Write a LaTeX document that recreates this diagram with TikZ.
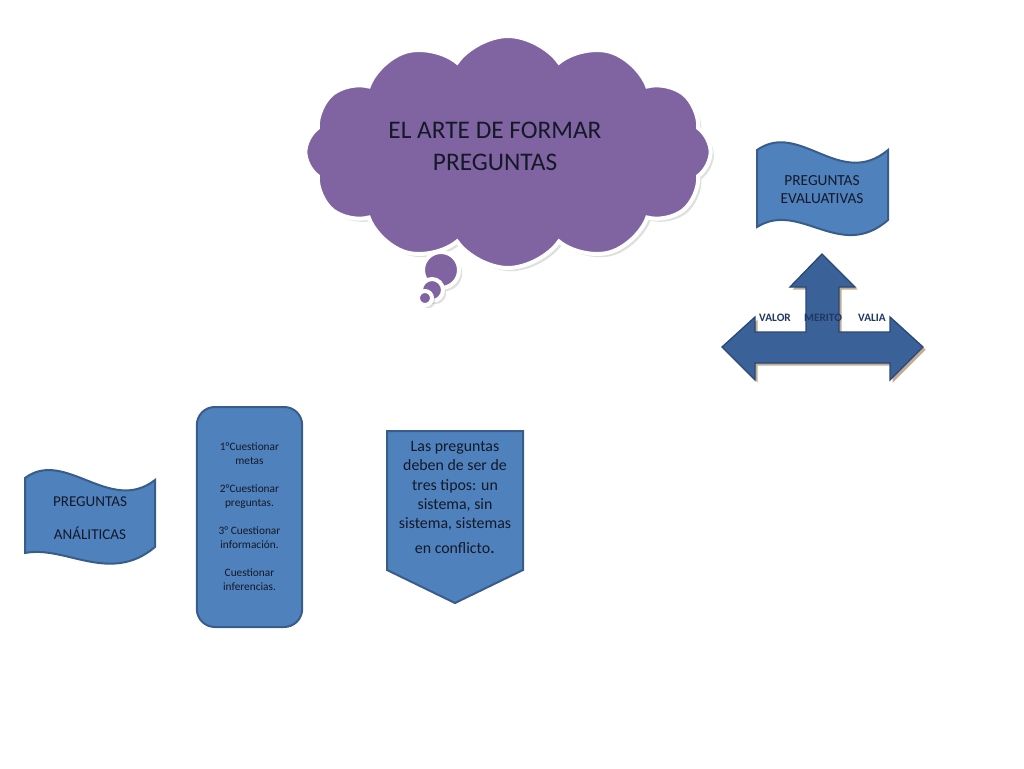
\documentclass[tikz,border=0pt]{standalone}
\usepackage{fontspec}
\setmainfont{Carlito}
\usetikzlibrary{shapes.symbols}
\usetikzlibrary{shadows}
\definecolor{cloudpurple}{RGB}{128,100,162}
\definecolor{boxblue}{RGB}{79,129,189}
\definecolor{boxline}{RGB}{56,93,138}
\definecolor{arrowblue}{RGB}{58,98,152}
\definecolor{arrowline}{RGB}{42,72,116}
\definecolor{labelnavy}{RGB}{31,56,100}
\definecolor{textdark}{RGB}{20,25,40}

\begin{document}
\begin{tikzpicture}[x=0.75pt,y=-0.75pt,
  blueshape/.style={fill=boxblue, draw=boxline, line width=1.5pt},
  bubble/.style={fill=cloudpurple, draw=white, line width=3pt, drop shadow={opacity=0.25}},
  boxtext/.style={align=center, text=textdark},
  arrowlabel/.style={font=\bfseries\fontsize{8.5}{10}\selectfont, text=labelnavy}]
\useasboundingbox (0,0) rectangle (1024,768);
% nube
\node[cloud, cloud puffs=12, cloud puff arc=110, aspect=1.75, bubble, minimum width=304pt, minimum height=174pt] (nube) at (508,152) {};
\foreach \cx/\cy/\r in {441/270/18, 432/290/11, 425/298/7}
  \filldraw[bubble] (\cx,\cy) circle [radius=\r*0.75pt];
\node[boxtext, font=\fontsize{19}{24}\selectfont] (arte) at (495,146) {EL ARTE DE FORMAR\\PREGUNTAS};
% banderas
\filldraw[blueshape] (757,150) .. controls (800,120) and (840,190) .. (888,150) -- (888,220) .. controls (840,262) and (800,200) .. (757,227) -- cycle;
\node[boxtext, font=\fontsize{11.5}{13.5}\selectfont] (evaluativas) at (822,190) {PREGUNTAS\\EVALUATIVAS};
\filldraw[blueshape] (25,478) .. controls (65,448) and (110,515) .. (155,480) -- (155,547) .. controls (110,585) and (65,545) .. (25,553) -- cycle;
\node[boxtext, font=\fontsize{11.3}{13.5}\selectfont] (analiticas) at (90,518) {PREGUNTAS\\[11pt]ANÁLITICAS};
% pasos
\node[blueshape, rounded corners=13.5pt, minimum width=79pt, minimum height=165pt, boxtext, font=\fontsize{8.5}{10.5}\selectfont] (pasos) at (249.5,517) {1°Cuestionar\\metas\\[10.5pt]2°Cuestionar\\preguntas.\\[10.5pt]3° Cuestionar\\información.\\[10.5pt]Cuestionar\\inferencias.};
% pentagono
\filldraw[blueshape] (387,431) -- (523,431) -- (523,570) -- (455,603) -- (387,570) -- cycle;
\node[boxtext, font=\fontsize{11.9}{14.3}\selectfont, anchor=north] (tipos) at (455,437) {Las preguntas\\deben de ser de\\tres tipos: un\\sistema, sin\\sistema, sistemas\\[5pt]en conflicto{\Large .}};
% flecha
\filldraw[fill=arrowblue, draw=arrowline, line width=1pt, drop shadow={shadow xshift=2pt, shadow yshift=-2pt, fill=brown!70!black, opacity=0.5}] (822,254) -- (855,287) -- (839,287) -- (839,332) -- (890,332) -- (890,317) -- (923,347) -- (890,380) -- (890,363) -- (755,363) -- (755,380) -- (722,347) -- (755,317) -- (755,332) -- (806,332) -- (806,287) -- (790,287) -- cycle;
\foreach \name/\x/\word in {valor/775/VALOR, merito/823/MERITO, valia/872/VALIA}
  \node[arrowlabel] (\name) at (\x,318) {\word};
\end{tikzpicture}
\end{document}
